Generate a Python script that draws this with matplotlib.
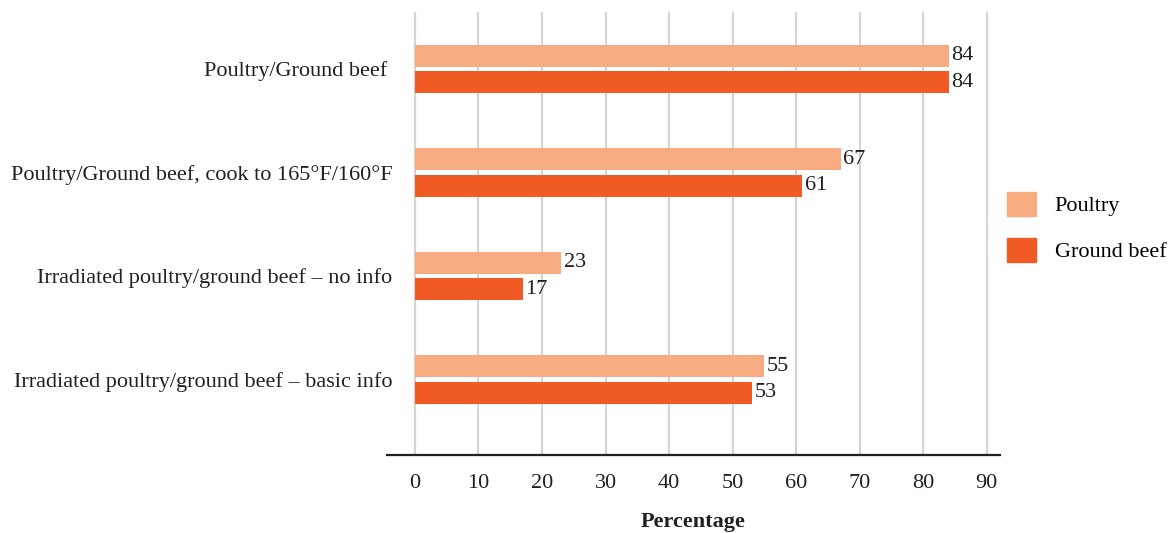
import numpy as np
import matplotlib.pyplot as plt
from matplotlib.patches import Patch

categories = ["Poultry/Ground beef ",
              "Poultry/Ground beef, cook to 165°F/160°F",
              "Irradiated poultry/ground beef – no info",
              "Irradiated poultry/ground beef – basic info"]
poultry = [84, 67, 23, 55]
ground_beef = [84, 61, 17, 53]
series_names = ["Poultry", "Ground beef"]
x_ticks = [0, 10, 20, 30, 40, 50, 60, 70, 80, 90]

c_poultry = "#F6AB81"
c_beef = "#F05B25"

plt.rcParams["font.family"] = ["Liberation Serif", "DejaVu Serif"]
plt.rcParams["font.size"] = 16

fig = plt.figure(figsize=(11.71, 5.33), dpi=100)
ax = fig.add_axes([0.3305, 0.1463, 0.5235, 0.831])

y = np.arange(len(categories))
h = 0.21
off = 0.128
b1 = ax.barh(y - off, poultry, height=h, color=c_poultry)
b2 = ax.barh(y + off, ground_beef, height=h, color=c_beef)
for bars, vals in ((b1, poultry), (b2, ground_beef)):
    for rect, v in zip(bars, vals):
        ax.text(v + 0.4, rect.get_y() + rect.get_height() / 2, str(v),
                va="center", ha="left", color="#231f20", fontsize=16)

ax.set_xlim(-4.4, 92.1)
ax.set_ylim(3.73, -0.55)
ax.set_xticks(x_ticks)
ax.set_yticks(y)
ax.set_yticklabels(categories)
ax.tick_params(axis="both", length=0, colors="#231f20", labelsize=16)
ax.tick_params(axis="x", pad=14)
ax.tick_params(axis="y", pad=-4)
ax.grid(axis="x", color="#d4d4d4", linewidth=1.6)
ax.set_axisbelow(True)
for s in ["top", "right", "left"]:
    ax.spines[s].set_visible(False)
ax.spines["bottom"].set_linewidth(1.6)
ax.spines["bottom"].set_color("#231f20")
ax.set_xlabel("Percentage", fontweight="bold", labelpad=13, color="#231f20")

handles = [Patch(color=c_poultry), Patch(color=c_beef)]
fig.legend(handles, series_names, loc="center left",
           bbox_to_anchor=(1007 / 1171, 1 - 227 / 533), frameon=False,
           handlelength=1.3, handleheight=1.3, labelspacing=0.95,
           handletextpad=0.85, borderpad=0, borderaxespad=0, fontsize=16)

fig.savefig("out.png", dpi=100)
